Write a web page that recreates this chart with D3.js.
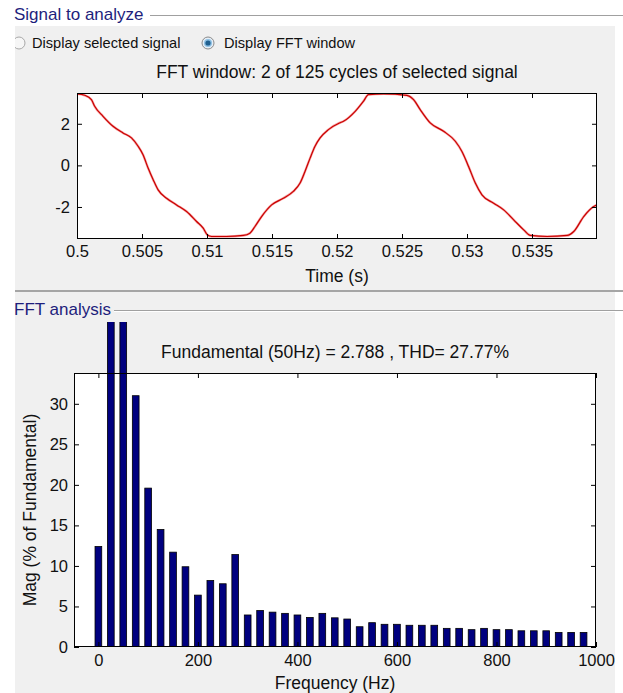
<!DOCTYPE html>
<html lang="en">
<head>
<meta charset="utf-8">
<title>FFT analysis</title>
<script src="https://d3js.org/d3.v7.min.js"></script>
<style>
  body { margin: 0; background: #fff; }
  svg text { font-family: "Liberation Sans", Arial, sans-serif; fill: #111; }
  .panelTitle { font-size: 17px; fill: #1e1e7c; }
  .radio { font-size: 14.6px; }
  .axis text { font-size: 16.5px; fill: #111; }
  .axis path { display: none; }
  .axis line { stroke: #000; }
  .lbl { font-size: 17.5px; }
</style>
</head>
<body>
<svg id="chart" width="623" height="693"></svg>
<script>
// signal in the FFT window
var sigTime = [0.5, 0.50059, 0.50111, 0.50136, 0.5020, 0.50277, 0.50354, 0.50419, 0.5047, 0.50508,
  0.50547, 0.50586, 0.50624, 0.50689, 0.50766, 0.50843, 0.5092, 0.50971, 0.51002, 0.51035,
  0.5115, 0.51279, 0.5133, 0.51369, 0.5142, 0.51497, 0.51587, 0.51664, 0.51716, 0.51754,
  0.51793, 0.51831, 0.5187, 0.51934, 0.52019, 0.5205, 0.5214, 0.52203, 0.52242, 0.52357,
  0.52537, 0.52589, 0.5264, 0.52717, 0.5282, 0.5291, 0.52961, 0.53012, 0.53064, 0.53115,
  0.53205, 0.53282, 0.53359, 0.53436, 0.53487, 0.53616, 0.5377, 0.53821, 0.53898, 0.53975, 0.54];
var sigValue = [3.44, 3.37, 3.16, 2.84, 2.36, 1.88, 1.56, 1.32, 0.92, 0.51,
  -0.13, -0.69, -1.18, -1.58, -1.9, -2.22, -2.7, -3.02, -3.34, -3.42,
  -3.42, -3.37, -3.26, -2.94, -2.46, -1.9, -1.58, -1.25, -0.85, -0.29,
  0.35, 0.92, 1.32, 1.72, 2.04, 2.12, 2.6, 3.08, 3.4, 3.44,
  3.37, 3.16, 2.68, 2.04, 1.64, 1.16, 0.67, -0.05, -0.85, -1.42,
  -1.82, -2.14, -2.62, -3.1, -3.37, -3.42, -3.37, -3.18, -2.46, -1.98, -1.9];
var timeTicks = [0.5, 0.505, 0.51, 0.515, 0.52, 0.525, 0.53, 0.535];
var timeTickLabels = ["0.5", "0.505", "0.51", "0.515", "0.52", "0.525", "0.53", "0.535"];
var sigTicks = [-2, 0, 2];
var sigTickLabels = ["-2", "0", "2"];

// FFT bars
var freqHz = [0, 25, 50, 75, 100, 125, 150, 175, 200, 225, 250, 275, 300, 325, 350, 375, 400, 425, 450, 475,
  500, 525, 550, 575, 600, 625, 650, 675, 700, 725, 750, 775, 800, 825, 850, 875, 900, 925, 950, 975];
var magPct = [12.4, 98, 100, 31.0, 19.6, 14.5, 11.7, 9.9, 6.4, 8.2, 7.8, 11.4, 3.95, 4.5, 4.3, 4.15, 3.95, 3.65, 4.15, 3.6,
  3.45, 2.5, 3.0, 2.8, 2.8, 2.68, 2.68, 2.68, 2.3, 2.3, 2.14, 2.3, 2.14, 2.14, 2.0, 2.0, 2.0, 1.8, 1.8, 1.8];
var freqTicks = [0, 200, 400, 600, 800, 1000];
var magTicks = [0, 5, 10, 15, 20, 25, 30];

var svg = d3.select("#chart");

// background panels
svg.append("rect").attr("x", 15).attr("y", 26).attr("width", 600).attr("height", 667).attr("fill", "#f0f0f0");
svg.append("rect").attr("x", 0).attr("y", 0).attr("width", 15).attr("height", 693).attr("fill", "#fff");

// panel frames
svg.append("line").attr("x1", 150).attr("x2", 623).attr("y1", 15.5).attr("y2", 15.5).attr("stroke", "#a0a0a0");
svg.append("line").attr("x1", 150).attr("x2", 623).attr("y1", 16.5).attr("y2", 16.5).attr("stroke", "#fff");
svg.append("text").attr("class", "panelTitle").attr("x", 14).attr("y", 20).text("Signal to analyze");

svg.append("rect").attr("x", 15).attr("y", 290).attr("width", 608).attr("height", 2).attr("fill", "#a5a5a5");
svg.append("line").attr("x1", 114).attr("x2", 623).attr("y1", 310.5).attr("y2", 310.5).attr("stroke", "#a0a0a0");
svg.append("line").attr("x1", 114).attr("x2", 623).attr("y1", 311.5).attr("y2", 311.5).attr("stroke", "#fff");
svg.append("text").attr("class", "panelTitle").attr("x", 14).attr("y", 315).text("FFT analysis");

// radio buttons
svg.append("circle").attr("cx", 19).attr("cy", 43).attr("r", 6).attr("fill", "#f6f6f6").attr("stroke", "#a8a8a8");
svg.append("rect").attr("x", 0).attr("y", 30).attr("width", 15).attr("height", 30).attr("fill", "#fff");
svg.append("text").attr("class", "radio").attr("x", 32).attr("y", 48).text("Display selected signal");
svg.append("circle").attr("cx", 208).attr("cy", 43).attr("r", 6).attr("fill", "#e6eef6").attr("stroke", "#8a8a8a");
svg.append("circle").attr("cx", 208).attr("cy", 43).attr("r", 4).attr("fill", "#8cc0e4");
svg.append("circle").attr("cx", 208).attr("cy", 43).attr("r", 2.6).attr("fill", "#1f5f8f");
svg.append("text").attr("class", "radio").attr("x", 224).attr("y", 48).text("Display FFT window");

// ---------- top: signal ----------
var t = { left: 77, right: 597, top: 93, bottom: 239 };
var xT = d3.scaleLinear().domain([0.5, 0.54]).range([t.left, t.right]);
var yT = d3.scaleLinear().domain([-3.54, 3.48]).range([t.bottom, t.top]);

svg.append("rect").attr("x", t.left).attr("y", t.top).attr("width", t.right - t.left).attr("height", t.bottom - t.top)
  .attr("fill", "#fff");

svg.append("clipPath").attr("id", "clipTop").append("rect")
  .attr("x", t.left).attr("y", t.top).attr("width", t.right - t.left).attr("height", t.bottom - t.top);

var sigLine = d3.line()
  .x(function(d, i) { return xT(sigTime[i]); })
  .y(function(d) { return yT(d); })
  .curve(d3.curveMonotoneX);

svg.append("path").attr("clip-path", "url(#clipTop)")
  .attr("d", sigLine(sigValue))
  .attr("fill", "none").attr("stroke", "#f03030").attr("stroke-width", 2.4).attr("opacity", 0.45);
svg.append("path").attr("clip-path", "url(#clipTop)")
  .attr("d", sigLine(sigValue))
  .attr("fill", "none").attr("stroke", "#c80000").attr("stroke-width", 1.2);

svg.append("g").attr("class", "axis").attr("transform", "translate(0," + t.bottom + ")")
  .call(d3.axisBottom(xT).tickValues(timeTicks).tickSizeInner(-5).tickSizeOuter(0).tickPadding(6)
    .tickFormat(function(d, i) { return timeTickLabels[i]; }));
svg.append("g").attr("class", "axis").attr("transform", "translate(0," + t.top + ")")
  .call(d3.axisTop(xT).tickValues(timeTicks).tickSizeInner(-5).tickSizeOuter(0).tickFormat(""));
svg.append("g").attr("class", "axis").attr("transform", "translate(" + t.left + ",0)")
  .call(d3.axisLeft(yT).tickValues(sigTicks).tickSizeInner(-5).tickSizeOuter(0).tickPadding(7)
    .tickFormat(function(d, i) { return sigTickLabels[i]; }));
svg.append("g").attr("class", "axis").attr("transform", "translate(" + t.right + ",0)")
  .call(d3.axisRight(yT).tickValues(sigTicks).tickSizeInner(-5).tickSizeOuter(0).tickFormat(""));

svg.append("rect").attr("x", t.left + 0.5).attr("y", t.top + 0.5).attr("width", t.right - t.left - 1).attr("height", t.bottom - t.top - 1)
  .attr("fill", "none").attr("stroke", "#000");

svg.append("text").attr("class", "lbl").attr("x", (t.left + t.right) / 2).attr("y", 78)
  .attr("text-anchor", "middle").text("FFT window: 2 of 125 cycles of selected signal");
svg.append("text").attr("class", "lbl").attr("x", (t.left + t.right) / 2).attr("y", 282)
  .attr("text-anchor", "middle").text("Time (s)");

// ---------- bottom: FFT ----------
var b = { left: 74, right: 596, top: 373, bottom: 647 };
var xB = d3.scaleLinear().domain([-49, 1000]).range([b.left, b.right]);
var yB = d3.scaleLinear().domain([0, 33.8]).range([b.bottom, b.top]);

svg.append("rect").attr("x", b.left).attr("y", b.top).attr("width", b.right - b.left).attr("height", b.bottom - b.top)
  .attr("fill", "#fff");

// tall bars run out of the axes up to the panel edge
svg.append("clipPath").attr("id", "clipBars").append("rect")
  .attr("x", b.left).attr("y", 322).attr("width", b.right - b.left).attr("height", b.bottom - 322);

var halfW = 6.75;
svg.append("g").attr("clip-path", "url(#clipBars)")
  .selectAll("rect").data(magPct).enter().append("rect")
    .attr("x", function(d, i) { return xB(freqHz[i] - halfW); })
    .attr("width", function(d, i) { return xB(freqHz[i] + halfW) - xB(freqHz[i] - halfW); })
    .attr("y", function(d) { return yB(d); })
    .attr("height", function(d) { return yB(0) - yB(d); })
    .attr("fill", "#00007f").attr("stroke", "#000").attr("stroke-width", 0.8);

svg.append("g").attr("class", "axis").attr("transform", "translate(0," + b.bottom + ")")
  .call(d3.axisBottom(xB).tickValues(freqTicks).tickSizeInner(-5).tickSizeOuter(0).tickPadding(7).tickFormat(d3.format("d")));
svg.append("g").attr("class", "axis").attr("transform", "translate(0," + b.top + ")")
  .call(d3.axisTop(xB).tickValues(freqTicks).tickSizeInner(-5).tickSizeOuter(0).tickFormat(""));
svg.append("g").attr("class", "axis").attr("transform", "translate(" + b.left + ",0)")
  .call(d3.axisLeft(yB).tickValues(magTicks).tickSizeInner(-5).tickSizeOuter(0).tickPadding(6));
svg.append("g").attr("class", "axis").attr("transform", "translate(" + b.right + ",0)")
  .call(d3.axisRight(yB).tickValues(magTicks).tickSizeInner(-5).tickSizeOuter(0).tickFormat(""));

svg.append("line").attr("x1", b.left).attr("x2", b.right).attr("y1", b.bottom - 0.5).attr("y2", b.bottom - 0.5).attr("stroke", "#000");
svg.append("line").attr("x1", b.left + 0.5).attr("x2", b.left + 0.5).attr("y1", b.top).attr("y2", b.bottom).attr("stroke", "#000");
svg.append("line").attr("x1", b.right - 0.5).attr("x2", b.right - 0.5).attr("y1", b.top).attr("y2", b.bottom).attr("stroke", "#000");
svg.append("line").attr("x1", b.left).attr("x2", b.right).attr("y1", b.top + 0.5).attr("y2", b.top + 0.5).attr("stroke", "#000");

svg.append("text").attr("class", "lbl").attr("x", (b.left + b.right) / 2).attr("y", 358)
  .attr("text-anchor", "middle").text("Fundamental (50Hz) = 2.788 , THD= 27.77%");
svg.append("text").attr("class", "lbl").attr("x", (b.left + b.right) / 2).attr("y", 689)
  .attr("text-anchor", "middle").text("Frequency (Hz)");
svg.append("text").attr("class", "lbl")
  .attr("transform", "translate(36," + ((b.top + b.bottom) / 2) + ") rotate(-90)")
  .attr("text-anchor", "middle").text("Mag (% of Fundamental)");
</script>
</body>
</html>
